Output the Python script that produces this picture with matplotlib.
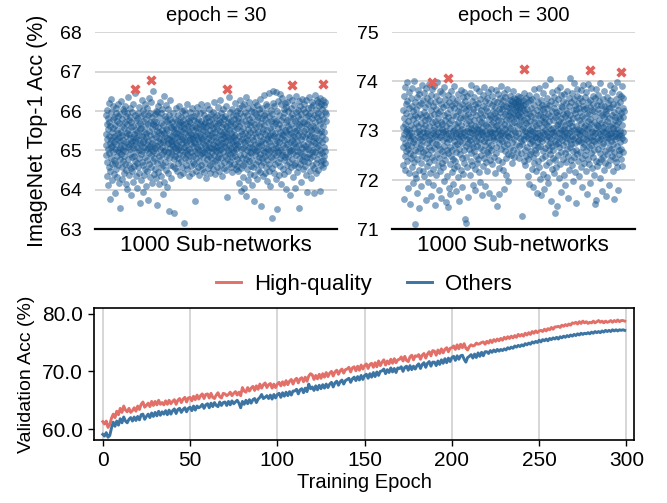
import numpy as np
import matplotlib
matplotlib.use('Agg')
import matplotlib.pyplot as plt

# fonts: Helvetica-like look
plt.rcParams['font.family'] = ['Liberation Sans', 'DejaVu Sans']

COLORS = {
    'dot': '#15558e',
    'hq': '#e0625c',
    'line_hq': '#e27069',
    'line_other': '#3c74a3',
    'grid': '#cccccc',
}

# ---------------------------------------------------------------------------
# Data
# ---------------------------------------------------------------------------
# top-1 acc of the 1000 sub-networks after 30 epochs (index order)
acc_epoch30 = [
    65.42, 64.88, 65.91, 65.13, 64.36, 65.67, 66.02, 64.71, 65.28, 65.55, 64.12, 65.83, 65.04, 64.59, 66.21, 65.37, 64.93, 65.71, 63.78, 65.19,
    65.61, 64.47, 65.26, 65.98, 64.82, 65.09, 66.31, 64.65, 65.47, 65.12, 64.24, 65.79, 65.33, 64.97, 65.58, 66.12, 64.41, 65.22, 65.86, 64.76,
    65.05, 65.64, 63.92, 65.38, 64.69, 65.95, 65.17, 64.53, 66.08, 65.29, 64.86, 65.51, 65.74, 64.33, 65.01, 65.88, 64.62, 65.44, 66.17, 64.95,
    65.33, 64.18, 65.69, 65.07, 64.79, 65.92, 65.24, 63.55, 65.48, 64.91, 66.26, 65.15, 64.58, 65.62, 65.39, 64.27, 65.81, 65.02, 64.73, 66.04,
    65.27, 64.85, 65.56, 64.44, 65.99, 65.11, 64.67, 65.73, 66.14, 64.99, 65.36, 64.15, 65.87, 65.21, 64.51, 65.66, 65.45, 64.03, 65.94, 65.08,
    64.78, 65.53, 66.36, 65.16, 64.64, 65.41, 65.77, 64.39, 65.03, 65.85, 64.92, 65.31, 66.07, 64.55, 65.59, 65.18, 63.86, 65.72, 65.25, 64.83,
    65.97, 64.49, 65.35, 65.06, 64.21, 65.63, 66.19, 64.87, 65.43, 65.14, 64.61, 65.89, 65.23, 64.74, 65.52, 66.47, 64.96, 65.32, 64.35, 65.78,
    65.10, 64.68, 65.82, 65.46, 64.06, 65.26, 65.96, 64.57, 65.65, 65.00, 64.81, 66.11, 65.40, 64.43, 65.70, 65.19, 63.68, 65.54, 65.87, 64.90,
    65.58, 64.26, 65.13, 66.28, 64.72, 65.37, 64.98, 65.75, 63.95, 65.21, 66.03, 64.63, 65.48, 65.09, 64.37, 65.93, 65.29, 64.84, 65.61, 66.18,
    64.54, 65.44, 65.02, 64.11, 65.80, 65.34, 64.77, 66.09, 65.17, 64.48, 65.68, 65.06, 63.74, 65.90, 65.25, 64.66, 65.50, 66.33, 64.94, 65.12,
    65.71, 64.32, 65.39, 65.96, 64.89, 65.04, 66.24, 64.59, 65.57, 65.20, 64.17, 65.84, 65.30, 64.73, 65.66, 66.50, 64.99, 65.43, 64.40, 65.76,
    65.15, 64.80, 65.92, 65.07, 64.52, 65.62, 66.01, 64.29, 65.35, 64.93, 65.73, 63.62, 65.49, 65.11, 64.69, 65.98, 65.24, 64.45, 65.59, 66.13,
    64.87, 65.32, 65.85, 64.14, 65.46, 65.03, 64.76, 66.22, 65.18, 64.58, 65.70, 65.41, 64.35, 65.94, 65.08, 64.91, 65.53, 66.06, 63.89, 65.27,
    65.64, 64.64, 65.22, 66.38, 64.98, 65.45, 64.20, 65.81, 65.36, 64.71, 65.00, 65.88, 64.50, 65.55, 66.16, 64.86, 65.31, 65.74, 64.08, 65.16,
    65.52, 64.95, 66.04, 65.19, 64.42, 65.67, 65.28, 64.81, 65.91, 63.47, 65.40, 65.06, 64.62, 65.79, 66.27, 64.97, 65.24, 64.30, 65.60, 65.13,
    65.38, 64.92, 65.71, 65.25, 64.61, 65.54, 65.96, 65.12, 64.78, 65.47, 63.42, 65.63, 65.29, 64.85, 65.81, 65.07, 64.55, 65.44, 66.09, 65.20,
    64.98, 65.58, 65.33, 64.47, 65.76, 65.15, 65.89, 64.82, 65.41, 65.03, 64.68, 65.67, 66.14, 65.24, 64.90, 65.52, 65.36, 64.39, 65.73, 65.10,
    65.61, 65.02, 64.73, 65.84, 65.30, 64.57, 65.49, 65.99, 65.18, 64.88, 65.66, 65.35, 64.44, 65.78, 63.16, 65.08, 65.57, 66.03, 64.96, 65.27,
    65.45, 64.80, 65.93, 65.21, 64.63, 65.69, 65.13, 64.91, 65.55, 66.18, 65.01, 64.52, 65.82, 65.39, 64.76, 65.62, 65.26, 64.35, 65.74, 65.48,
    65.05, 65.70, 64.87, 65.32, 65.97, 64.60, 65.43, 65.16, 64.95, 65.85, 65.28, 64.42, 65.60, 66.07, 65.11, 64.71, 65.51, 65.34, 64.86, 65.77,
    65.22, 64.66, 65.88, 65.40, 64.99, 65.63, 63.72, 65.19, 65.94, 64.81, 65.36, 65.58, 64.49, 65.72, 65.09, 64.93, 66.11, 65.30, 64.58, 65.46,
    65.80, 65.04, 64.74, 65.57, 65.25, 64.37, 65.68, 65.95, 65.12, 64.89, 65.42, 66.19, 64.64, 65.35, 65.75, 65.00, 64.54, 65.61, 65.29, 64.94,
    65.53, 66.02, 64.83, 65.18, 65.66, 64.45, 65.90, 65.37, 64.97, 65.71, 65.14, 64.68, 65.49, 65.83, 65.06, 64.30, 65.59, 65.23, 66.15, 64.90,
    65.41, 64.78, 65.64, 65.02, 64.56, 65.86, 65.31, 65.10, 64.85, 65.74, 66.05, 65.20, 64.62, 65.52, 64.43, 65.39, 65.92, 65.07, 64.80, 65.65,
    65.27, 64.95, 65.81, 65.44, 64.69, 65.16, 65.98, 64.52, 65.58, 65.33, 64.88, 65.70, 65.03, 66.22, 64.73, 65.47, 65.12, 64.41, 65.85, 65.24,
    64.99, 65.62, 65.35, 64.76, 65.91, 65.08, 64.59, 65.55, 66.10, 65.21, 64.84, 65.69, 65.40, 64.47, 65.77, 65.01, 64.92, 65.50, 66.28, 65.15,
    65.73, 64.64, 65.29, 65.96, 65.05, 64.81, 65.60, 65.43, 64.36, 65.84, 65.18, 64.97, 65.67, 65.32, 66.04, 64.70, 65.48, 65.11, 64.55, 65.79,
    65.37, 65.88, 64.86, 65.22, 65.63, 64.51, 65.45, 66.13, 65.09, 64.79, 65.56, 65.26, 63.81, 65.72, 65.00, 64.93, 65.82, 65.34, 64.65, 65.53,
    66.35, 65.14, 64.74, 65.68, 65.30, 64.90, 65.97, 65.06, 64.58, 65.44, 65.76, 65.19, 64.83, 66.06, 65.38, 64.45, 65.61, 65.25, 65.02, 65.89,
    64.96, 65.51, 65.80, 64.67, 65.35, 66.21, 65.13, 64.87, 65.66, 65.40, 64.53, 65.91, 65.04, 65.27, 64.78, 65.58, 66.01, 65.16, 64.61, 65.74,
    65.12, 64.47, 65.83, 66.09, 64.71, 65.36, 64.18, 65.62, 65.95, 64.89, 65.24, 66.27, 64.56, 65.49, 65.03, 63.97, 65.71, 65.30, 64.82, 66.14,
    65.41, 64.63, 65.06, 65.88, 64.34, 65.57, 66.18, 64.92, 65.21, 64.05, 65.76, 65.44, 64.68, 65.98, 65.15, 64.79, 66.36, 65.32, 63.84, 65.67,
    65.01, 64.52, 65.90, 65.27, 64.86, 65.54, 66.07, 64.25, 65.39, 65.10, 64.73, 65.81, 66.22, 64.97, 65.48, 64.40, 65.64, 65.18, 64.60, 66.01,
    65.73, 64.94, 65.35, 64.13, 65.86, 65.09, 64.77, 66.11, 65.52, 64.58, 65.26, 65.97, 64.39, 65.68, 65.04, 63.73, 65.45, 66.24, 64.88, 65.17,
    64.65, 65.59, 65.92, 64.99, 65.33, 64.28, 65.78, 66.15, 65.02, 64.74, 65.47, 65.85, 64.51, 65.20, 66.04, 64.83, 65.61, 65.11, 64.46, 65.94,
    65.38, 64.90, 66.30, 65.14, 64.62, 65.70, 65.23, 63.58, 65.83, 65.46, 64.81, 66.08, 65.29, 64.36, 65.55, 65.00, 64.70, 65.91, 66.40, 64.96,
    65.65, 64.44, 65.18, 65.79, 64.87, 65.42, 66.19, 64.59, 65.07, 65.96, 64.23, 65.51, 65.28, 64.75, 66.12, 65.36, 64.91, 65.72, 65.05, 64.49,
    65.87, 65.22, 64.67, 66.45, 65.40, 64.98, 65.58, 64.11, 65.76, 66.03, 64.84, 65.31, 65.13, 64.55, 65.93, 63.29, 65.47, 66.21, 64.78, 65.63,
    65.03, 66.52, 64.93, 65.37, 64.43, 65.81, 66.14, 65.19, 64.66, 65.69, 65.44, 64.27, 66.48, 65.06, 64.88, 65.74, 65.25, 63.52, 65.99, 65.35,
    64.72, 65.56, 66.26, 65.10, 64.95, 65.67, 64.38, 65.89, 65.21, 66.43, 64.80, 65.48, 65.02, 64.60, 66.17, 65.32, 64.15, 65.77, 65.43, 64.89,
    65.60, 66.32, 64.97, 65.14, 65.85, 64.52, 65.39, 66.06, 64.76, 65.27, 65.94, 64.41, 65.53, 66.20, 65.08, 64.84, 65.71, 64.03, 65.46, 66.11,
    64.91, 65.30, 65.78, 64.64, 66.24, 65.17, 64.85, 65.63, 65.99, 64.47, 65.41, 65.05, 66.35, 64.71, 65.54, 63.87, 65.86, 65.22, 64.98, 65.68,
    66.09, 65.01, 64.57, 65.45, 65.92, 64.79, 65.26, 66.28, 65.12, 64.33, 65.82, 65.36, 64.94, 65.58, 66.15, 64.62, 65.19, 65.75, 64.06, 65.50,
    65.33, 64.69, 65.97, 65.09, 64.88, 66.38, 65.52, 64.45, 65.70, 65.24, 64.99, 65.87, 66.02, 64.58, 65.40, 65.13, 63.55, 65.64, 66.25, 64.82,
    65.46, 64.96, 65.80, 66.13, 64.67, 65.29, 65.61, 64.20, 65.93, 65.07, 64.77, 66.31, 65.38, 64.90, 65.72, 65.16, 64.53, 66.04, 65.49, 64.86,
    65.69, 66.19, 64.74, 65.34, 65.98, 64.61, 65.11, 65.84, 64.39, 65.55, 66.27, 65.03, 64.83, 65.66, 63.94, 65.42, 66.08, 65.20, 64.70, 65.89,
    65.04, 65.76, 64.92, 66.35, 65.28, 64.48, 65.60, 65.95, 64.80, 65.37, 66.10, 64.29, 65.51, 65.15, 64.97, 65.83, 66.22, 64.64, 65.45, 65.02,
    64.87, 65.62, 66.16, 65.23, 64.56, 65.90, 65.35, 63.91, 65.73, 66.40, 64.95, 65.18, 65.57, 64.68, 66.02, 65.31, 64.43, 65.86, 65.10, 66.29,
    65.53, 64.79, 65.96, 65.14, 66.24, 64.51, 65.44, 65.78, 64.90, 66.12, 65.26, 63.98, 65.67, 65.00, 66.33, 64.73, 65.49, 65.91, 64.62, 66.18,
    65.38, 64.94, 66.06, 65.21, 64.75, 65.81, 66.27, 64.57, 65.63, 65.09, 66.15, 64.86, 65.47, 65.97, 64.68, 65.29, 66.22, 64.98, 65.74, 65.93,
]

# same 1000 sub-networks after 300 epochs
acc_epoch300 = [
    72.85, 73.42, 72.31, 73.08, 72.67, 73.71, 72.94, 71.62, 73.25, 72.48, 73.89, 72.76, 73.13, 72.20, 73.55, 72.99, 72.58, 73.36, 73.98, 72.71,
    73.04, 72.39, 73.61, 72.87, 71.83, 73.19, 72.63, 73.47, 72.92, 72.15, 73.78, 73.01, 72.54, 73.30, 71.52, 72.81, 73.66, 72.45, 73.12, 72.96,
    72.69, 73.51, 72.27, 73.87, 72.90, 73.23, 72.51, 71.95, 73.40, 72.78, 73.06, 72.36, 74.02, 72.84, 73.33, 72.12, 71.11, 73.58, 72.61, 73.15,
    73.44, 72.73, 72.05, 73.69, 72.97, 73.27, 72.42, 71.73, 73.82, 72.88, 73.10, 72.58, 73.52, 72.21, 72.99, 73.74, 71.44, 72.66, 73.35, 72.83,
    72.93, 73.57, 72.34, 73.16, 72.71, 71.88, 73.93, 72.49, 73.28, 72.80, 73.05, 72.18, 73.63, 72.98, 72.56, 73.39, 72.08, 73.77, 72.87, 73.21,
    72.62, 73.48, 72.90, 73.11, 71.59, 73.86, 72.44, 73.32, 72.75, 73.00, 72.28, 73.67, 72.95, 73.24, 72.52, 71.97, 73.54, 72.82, 73.95, 72.68,
    73.09, 72.37, 73.60, 72.91, 73.29, 72.14, 73.73, 72.60, 71.68, 73.43, 72.86, 73.18, 72.47, 73.84, 72.77, 73.02, 72.23, 73.50, 72.96, 71.91,
    73.34, 72.65, 73.07, 73.91, 72.40, 72.89, 73.58, 71.49, 73.20, 72.74, 73.45, 72.10, 73.70, 72.94, 72.53, 73.14, 72.83, 73.99, 72.30, 73.37,
    72.72, 73.26, 72.98, 71.80, 73.62, 72.45, 73.05, 72.87, 73.81, 72.19, 73.40, 72.64, 73.17, 71.64, 72.92, 73.55, 72.35, 73.03, 73.76, 72.59,
    73.13, 72.81, 73.49, 72.26, 72.97, 73.88, 72.50, 73.31, 71.99, 72.70, 73.64, 73.00, 72.41, 73.22, 72.86, 71.56, 73.53, 72.93, 73.10, 72.62,
    72.78, 73.36, 72.09, 73.72, 72.95, 71.46, 73.27, 72.55, 73.59, 72.83, 71.83, 73.15, 72.67, 73.44, 72.32, 73.06, 71.71, 72.91, 73.80, 72.48,
    73.21, 72.61, 73.52, 72.88, 72.17, 73.67, 72.99, 72.43, 73.33, 71.92, 72.80, 73.47, 72.24, 73.02, 73.90, 72.71, 73.13, 72.38, 73.57, 72.90,
    72.57, 73.29, 72.96, 71.77, 73.63, 72.73, 73.08, 72.29, 73.41, 72.85, 73.74, 72.06, 73.18, 72.64, 73.51, 72.94, 71.58, 73.26, 72.79, 73.00,
    73.38, 72.52, 73.83, 72.90, 72.20, 73.12, 72.76, 73.55, 71.86, 73.04, 72.44, 73.69, 72.87, 73.25, 72.13, 73.46, 72.97, 72.60, 73.79, 72.35,
    72.92, 73.30, 71.21, 73.60, 72.69, 73.16, 72.46, 73.43, 71.12, 72.84, 73.71, 72.99, 72.27, 73.35, 72.75, 73.06, 71.65, 73.53, 72.88, 73.19,
    72.63, 73.49, 72.98, 72.11, 73.76, 72.82, 73.27, 72.54, 73.05, 73.92, 72.39, 73.14, 72.74, 73.61, 72.30, 72.95, 73.39, 71.90, 73.02, 72.68,
    73.45, 72.86, 73.21, 72.58, 73.68, 72.22, 73.09, 72.92, 73.54, 71.79, 72.79, 73.32, 72.49, 73.86, 72.98, 73.03, 72.35, 73.48, 72.70, 73.12,
    72.89, 73.57, 72.42, 73.24, 72.77, 73.80, 72.16, 73.01, 72.65, 73.37, 71.96, 73.64, 72.93, 73.18, 72.51, 73.42, 72.83, 71.69, 73.28, 72.97,
    73.06, 72.62, 73.73, 72.91, 72.28, 73.50, 72.80, 73.15, 72.45, 73.89, 72.72, 73.33, 71.88, 72.99, 73.60, 72.37, 73.11, 72.85, 73.46, 72.56,
    72.94, 73.40, 72.19, 73.67, 72.78, 73.08, 72.53, 73.79, 72.88, 71.74, 73.23, 72.66, 73.56, 73.00, 72.40, 73.31, 72.96, 73.85, 72.60, 73.14,
    73.27, 72.71, 73.53, 72.98, 72.33, 73.70, 72.86, 73.17, 71.63, 73.41, 72.90, 73.04, 72.47, 73.61, 72.81, 73.25, 72.14, 73.48, 72.95, 73.36,
    72.68, 73.83, 73.09, 72.55, 73.30, 71.48, 73.58, 72.87, 73.12, 72.41, 73.74, 72.99, 73.22, 71.71, 73.45, 72.76, 73.01, 72.25, 73.66, 72.92,
    73.38, 72.84, 73.55, 72.63, 73.19, 73.91, 72.96, 72.37, 73.44, 73.07, 72.79, 73.62, 72.20, 73.29, 72.91, 73.50, 71.82, 73.14, 72.70, 73.77,
    73.03, 72.58, 73.35, 72.93, 73.68, 72.45, 73.21, 72.82, 73.51, 72.11, 73.40, 72.97, 73.85, 72.74, 73.10, 72.52, 73.57, 72.89, 71.98, 73.32,
    73.46, 72.88, 73.24, 73.62, 72.66, 73.39, 73.05, 73.71, 72.50, 73.53, 72.94, 73.28, 72.35, 73.60, 73.15, 72.78, 73.48, 73.02, 73.80, 72.61,
    73.37, 73.54, 72.83, 73.18, 73.66, 72.47, 73.43, 73.59, 72.98, 73.30, 72.72, 73.49, 73.64, 72.90, 73.25, 73.52, 72.57, 73.41, 73.09, 73.71,
    73.56, 72.96, 73.33, 73.61, 72.69, 73.45, 73.13, 72.44, 73.50, 73.27, 73.68, 72.85, 73.38, 72.55, 73.58, 73.20, 72.79, 71.27, 73.47, 73.04,
    73.31, 72.74, 73.63, 73.08, 72.91, 73.53, 72.38, 73.42, 73.76, 72.83, 73.22, 72.60, 73.55, 73.00, 72.30, 73.36, 72.89, 73.67, 72.48, 73.15,
    72.97, 73.44, 72.67, 73.26, 72.09, 73.58, 72.86, 73.11, 72.42, 73.73, 72.93, 73.35, 71.92, 73.01, 72.76, 73.62, 72.53, 73.19, 72.84, 73.47,
    72.59, 73.29, 72.99, 72.23, 73.65, 72.80, 73.06, 72.46, 73.39, 72.92, 71.86, 73.52, 72.71, 73.17, 72.34, 73.84, 72.95, 72.62, 73.25, 72.87,
    73.12, 72.54, 73.70, 72.88, 72.18, 73.43, 72.77, 73.05, 71.74, 73.58, 72.95, 72.39, 73.31, 72.68, 73.87, 72.83, 73.16, 72.26, 73.49, 72.91,
    72.70, 73.35, 72.02, 73.63, 72.86, 73.21, 71.69, 72.97, 73.52, 72.44, 73.08, 72.79, 73.76, 72.58, 73.28, 72.12, 73.44, 72.93, 71.81, 73.18,
    73.39, 72.65, 73.01, 73.92, 72.48, 73.26, 72.83, 73.55, 72.31, 73.13, 72.90, 73.67, 72.07, 72.98, 73.47, 72.72, 73.34, 71.95, 73.09, 72.61,
    72.88, 73.53, 72.36, 73.19, 72.75, 74.06, 72.52, 73.30, 72.96, 71.58, 73.61, 72.84, 73.04, 72.22, 73.41, 72.69, 73.78, 72.98, 72.45, 73.22,
    73.06, 72.60, 73.46, 72.91, 72.15, 73.69, 72.80, 73.27, 72.41, 73.57, 71.33, 73.00, 72.73, 73.38, 72.27, 73.82, 72.87, 73.11, 71.47, 73.33,
    72.76, 73.14, 72.50, 73.65, 72.95, 72.04, 73.40, 72.67, 73.20, 73.88, 72.33, 73.06, 72.85, 73.51, 71.76, 73.26, 72.57, 73.72, 72.93, 73.02,
    73.48, 72.82, 73.17, 72.43, 73.60, 72.71, 73.34, 72.10, 73.03, 72.89, 73.75, 72.55, 73.29, 71.90, 73.12, 72.98, 73.56, 72.37, 73.43, 72.78,
    72.92, 73.37, 72.64, 73.81, 72.85, 73.23, 71.64, 73.05, 72.49, 73.66, 72.96, 73.15, 72.21, 73.50, 72.81, 74.08, 72.68, 73.31, 72.99, 72.40,
    73.18, 72.73, 73.59, 72.30, 73.09, 72.90, 73.77, 72.58, 73.42, 71.99, 73.26, 72.84, 73.64, 72.47, 73.01, 73.97, 72.75, 73.36, 72.16, 73.53,
    72.87, 73.44, 72.62, 73.10, 71.53, 73.70, 72.97, 73.28, 72.53, 73.85, 72.79, 73.04, 72.38, 73.57, 72.94, 73.21, 72.09, 73.46, 72.82, 73.67,
    73.02, 72.56, 73.39, 72.91, 73.82, 72.27, 73.15, 72.78, 73.61, 72.44, 73.30, 71.85, 72.99, 73.51, 72.68, 73.93, 72.86, 73.08, 72.35, 73.45,
    72.74, 73.26, 72.96, 73.68, 72.51, 73.11, 72.19, 73.47, 72.83, 73.79, 72.62, 73.03, 71.72, 73.36, 72.92, 73.58, 72.43, 73.20, 72.80, 73.95,
    73.34, 72.67, 73.07, 72.32, 73.63, 72.88, 73.24, 71.94, 73.49, 72.71, 73.14, 72.54, 73.86, 72.97, 73.00, 72.25, 73.42, 72.82, 73.70, 72.47,
    72.90, 73.55, 72.60, 73.18, 72.11, 73.41, 72.79, 71.51, 73.29, 72.95, 73.66, 72.39, 73.05, 72.73, 73.84, 71.60, 73.12, 72.86, 73.52, 72.28,
    73.09, 72.64, 73.44, 72.98, 73.73, 72.36, 73.22, 72.81, 73.60, 72.05, 72.93, 73.37, 72.55, 73.96, 72.84, 73.16, 72.42, 73.53, 71.77, 73.01,
    72.70, 73.31, 72.89, 73.64, 72.46, 73.08, 72.76, 73.50, 72.21, 73.27, 72.97, 73.81, 72.58, 73.13, 72.34, 73.45, 72.87, 71.68, 73.35, 72.99,
    73.40, 72.77, 73.19, 72.52, 73.69, 72.92, 73.03, 72.30, 73.57, 72.85, 73.25, 71.89, 73.46, 72.66, 73.92, 72.94, 73.10, 72.41, 73.63, 72.80,
    72.96, 73.48, 72.63, 73.14, 72.87, 73.78, 72.49, 73.32, 72.18, 73.06, 72.74, 73.55, 71.62, 72.99, 73.38, 72.57, 73.87, 72.90, 73.21, 72.45,
    73.27, 72.83, 73.65, 72.37, 73.11, 72.95, 73.52, 72.70, 73.98, 72.26, 73.04, 72.88, 73.43, 71.80, 73.17, 72.61, 73.74, 72.92, 73.30, 72.53,
    73.00, 73.59, 72.78, 73.23, 72.43, 73.71, 72.91, 73.36, 72.64, 73.90, 72.85, 73.12, 72.29, 73.47, 72.97, 73.66, 72.56, 73.28, 72.82, 73.41,
]

# the five high-quality sub-networks (red crosses)
hq_index = [132, 205, 550, 846, 988]
hq_acc_epoch30 = [66.55, 66.79, 66.55, 66.65, 66.69]
hq_acc_epoch300 = [73.99, 74.07, 74.25, 74.23, 74.20]

# validation accuracy curves, epochs 0..299
val_high_quality = [
    61.3, 60.9, 61.4, 60.3, 60.8, 61.9, 62.6, 62.0, 63.1, 62.5,
    63.6, 62.9, 64.0, 63.3, 63.0, 63.6, 62.9, 63.2, 63.7, 63.1,
    64.0, 63.4, 64.3, 64.7, 63.8, 64.1, 64.5, 63.9, 64.8, 64.1,
    64.8, 64.2, 65.0, 64.3, 64.6, 64.2, 64.9, 64.3, 65.0, 64.4,
    64.8, 65.1, 64.3, 65.0, 65.3, 64.6, 65.2, 65.5, 64.7, 65.4,
    65.5, 64.9, 65.7, 65.1, 65.9, 65.2, 65.8, 66.1, 65.3, 66.0,
    66.1, 65.4, 66.2, 65.5, 65.3, 65.9, 66.3, 65.6, 65.4, 66.2,
    66.1, 65.8, 66.0, 66.4, 65.8, 66.2, 66.5, 65.9, 66.4, 65.8,
    67.2, 66.6, 66.4, 67.2, 66.6, 67.1, 67.4, 66.7, 67.5, 66.9,
    67.8, 67.1, 67.7, 68.0, 67.2, 67.7, 67.9, 67.1, 67.8, 67.2,
    67.8, 68.1, 67.5, 68.2, 67.6, 68.4, 67.7, 68.3, 68.6, 67.8,
    68.5, 68.8, 68.0, 68.7, 68.9, 68.2, 69.0, 68.3, 69.2, 69.6,
    69.4, 68.6, 69.3, 68.7, 69.5, 68.8, 69.6, 69.0, 69.8, 69.1,
    69.7, 70.0, 69.2, 69.9, 70.2, 69.5, 70.1, 70.4, 69.7, 70.3,
    70.4, 70.7, 69.9, 70.6, 70.8, 70.1, 70.9, 70.2, 71.1, 70.4,
    71.0, 71.3, 70.5, 71.2, 71.4, 70.7, 71.5, 70.8, 71.8, 71.0,
    71.6, 72.0, 71.1, 71.8, 71.3, 72.1, 71.4, 72.2, 71.5, 72.0,
    72.1, 72.5, 71.8, 72.6, 71.9, 71.7, 72.5, 72.8, 72.0, 72.7,
    72.6, 72.9, 72.1, 72.8, 73.1, 72.3, 73.0, 73.4, 72.7, 73.6,
    73.5, 72.8, 73.7, 73.1, 73.9, 73.2, 73.8, 74.1, 73.4, 74.0,
    74.1, 74.4, 73.8, 74.6, 73.9, 74.7, 74.1, 74.8, 74.0, 73.7,
    74.3, 74.6, 74.4, 74.5, 74.9, 74.7, 74.8, 75.0, 75.1, 74.7,
    75.2, 74.9, 75.4, 75.0, 75.5, 75.2, 75.6, 75.3, 75.7, 75.4,
    75.9, 75.6, 76.0, 75.7, 76.1, 75.8, 76.2, 75.9, 76.4, 76.1,
    76.4, 76.1, 76.6, 76.3, 76.7, 76.4, 76.9, 76.6, 77.0, 76.7,
    77.0, 77.1, 76.9, 77.3, 77.0, 77.4, 77.2, 77.6, 77.3, 77.7,
    77.7, 77.8, 77.6, 78.0, 77.8, 78.1, 77.9, 78.2, 78.0, 78.4,
    78.3, 78.5, 78.2, 78.6, 78.3, 78.7, 78.4, 78.6, 78.3, 78.5,
    78.4, 78.7, 78.4, 78.6, 78.8, 78.5, 78.7, 78.4, 78.7, 78.5,
    78.6, 78.8, 78.5, 78.8, 78.6, 78.9, 78.6, 78.8, 78.8, 78.7,
]
val_others = [
    59.1, 58.8, 59.4, 58.6, 58.9, 60.2, 61.2, 60.5, 61.4, 60.7,
    61.8, 61.1, 62.1, 61.4, 61.1, 61.7, 62.0, 61.4, 62.1, 61.5,
    62.2, 61.6, 62.5, 62.6, 61.7, 62.2, 62.6, 62.0, 62.8, 62.2,
    62.9, 62.3, 63.1, 62.4, 63.0, 62.6, 63.2, 62.5, 63.3, 62.6,
    63.2, 63.5, 62.7, 63.4, 63.6, 62.9, 63.4, 63.7, 63.0, 63.6,
    63.8, 63.2, 64.0, 63.3, 64.0, 63.7, 63.9, 64.3, 63.6, 64.2,
    64.4, 63.7, 64.5, 63.9, 64.6, 64.1, 63.9, 64.7, 64.1, 64.6,
    64.7, 64.1, 64.8, 64.2, 64.9, 64.4, 64.7, 65.0, 64.5, 63.7,
    64.8, 64.3, 65.0, 64.4, 65.1, 64.5, 65.1, 65.3, 64.6, 65.2,
    65.5, 66.0, 65.3, 65.5, 65.8, 65.3, 65.9, 65.2, 66.0, 65.4,
    66.0, 66.2, 65.5, 66.3, 65.7, 66.4, 65.8, 66.5, 65.9, 66.6,
    66.6, 66.9, 66.1, 66.8, 67.0, 66.3, 67.1, 66.5, 67.8, 67.0,
    67.3, 66.7, 67.5, 66.8, 67.6, 67.0, 67.7, 67.1, 67.8, 67.2,
    67.8, 68.1, 67.3, 68.0, 68.3, 67.6, 68.2, 68.5, 67.8, 68.4,
    68.6, 68.8, 68.1, 68.7, 69.0, 68.4, 69.1, 68.5, 69.3, 68.6,
    69.3, 69.5, 68.8, 69.6, 69.0, 69.8, 69.1, 69.9, 69.3, 70.0,
    70.1, 70.4, 69.6, 70.3, 69.8, 70.6, 69.9, 70.5, 69.8, 70.6,
    70.5, 70.8, 70.0, 70.7, 70.9, 70.2, 71.0, 70.3, 70.9, 70.4,
    71.0, 71.3, 70.5, 71.2, 71.5, 70.7, 71.4, 71.7, 70.9, 71.6,
    71.6, 71.0, 71.8, 71.2, 72.0, 71.4, 72.2, 71.5, 72.3, 71.7,
    72.4, 72.6, 71.9, 72.7, 72.1, 72.7, 72.8, 72.1, 71.6, 72.4,
    72.6, 72.9, 72.3, 73.0, 72.4, 73.2, 72.6, 73.3, 72.7, 73.4,
    73.4, 73.1, 73.6, 73.3, 73.7, 73.4, 73.8, 73.5, 73.8, 73.6,
    73.9, 73.7, 74.1, 73.9, 74.2, 74.0, 74.4, 74.2, 74.5, 74.3,
    74.6, 74.4, 74.8, 74.6, 74.9, 74.7, 75.1, 74.9, 75.2, 75.0,
    75.4, 75.1, 75.5, 75.3, 75.6, 75.3, 75.7, 75.5, 75.8, 75.6,
    75.9, 75.6, 76.0, 75.8, 76.1, 75.9, 76.2, 76.0, 76.3, 76.1,
    76.4, 76.2, 76.5, 76.3, 76.6, 76.4, 76.6, 76.5, 76.7, 76.5,
    76.8, 76.6, 76.9, 76.7, 76.9, 76.7, 77.0, 76.8, 77.1, 76.9,
    77.1, 76.9, 77.2, 77.0, 77.2, 77.0, 77.2, 77.1, 77.2, 77.1,
]

top_panels = [
    ('epoch = 30', acc_epoch30, hq_acc_epoch30, (63, 68), [63, 64, 65, 66, 67, 68]),
    ('epoch = 300', acc_epoch300, hq_acc_epoch300, (71, 75), [71, 72, 73, 74, 75]),
]


def style_scatter_panel(ax, title, ylim, yticks):
    ax.set_ylim(*ylim)
    ax.set_yticks(yticks)
    ax.set_xticks([])
    ax.set_title(title, fontsize=14.5, pad=8)
    ax.set_xlabel('1000 Sub-networks', fontsize=16, labelpad=4)
    ax.yaxis.grid(True, color=COLORS['grid'], linewidth=1.1)
    ax.set_axisbelow(True)
    for side in ['top', 'right', 'left']:
        ax.spines[side].set_visible(False)
    ax.spines['bottom'].set_color('black')
    ax.spines['bottom'].set_linewidth(1.6)
    ax.tick_params(axis='y', length=0, pad=9.5, labelsize=14)


def main():
    fig = plt.figure(figsize=(6.67, 5.03), dpi=100)
    top_axes = [fig.add_axes([0.142, 0.544, 0.363, 0.392]),
                fig.add_axes([0.587, 0.544, 0.365, 0.392])]

    for ax, (title, acc, hq_acc, ylim, yticks) in zip(top_axes, top_panels):
        ax.scatter(np.arange(len(acc)), acc, s=24, color=COLORS['dot'],
                   alpha=0.52, linewidths=0, zorder=2)
        ax.scatter(hq_index, hq_acc, s=55, marker='X', color=COLORS['hq'],
                   linewidths=0, zorder=3)
        style_scatter_panel(ax, title, ylim, yticks)

    top_axes[0].set_ylabel('ImageNet Top-1 Acc (%)', fontsize=15.5)
    top_axes[0].yaxis.set_label_coords(-0.195, 0.5)

    # bottom: validation curves
    ax = fig.add_axes([0.141, 0.125, 0.810, 0.263])
    epochs = np.arange(len(val_high_quality))
    ax.plot(epochs, val_high_quality, color=COLORS['line_hq'], lw=2.1, label='High-quality')
    ax.plot(epochs, val_others, color=COLORS['line_other'], lw=2.1, label='Others')

    ax.set_xlim(-5, 304.5)
    ax.set_ylim(58.1, 81.0)
    ax.set_xticks([0, 50, 100, 150, 200, 250, 300])
    ax.set_yticks([60, 70, 80])
    ax.set_yticklabels(['60.0', '70.0', '80.0'])
    ax.xaxis.grid(True, color=COLORS['grid'], linewidth=1.1)
    ax.set_axisbelow(True)
    for side in ax.spines.values():
        side.set_color('black')
        side.set_linewidth(1.2)
    ax.tick_params(length=4, width=1, pad=4, labelsize=15)
    ax.set_xlabel('Training Epoch', fontsize=14.5, labelpad=2)
    ax.set_ylabel('Validation Acc (%)', fontsize=14)
    ax.yaxis.set_label_coords(-0.11, 0.5)
    ax.legend(loc='lower center', bbox_to_anchor=(0.5, 1.0), ncol=2, frameon=False,
              fontsize=16, handlelength=1.1, columnspacing=1.6, handletextpad=0.6,
              borderaxespad=0.2)

    fig.savefig('out.png', dpi=100, facecolor='white')
    plt.close(fig)


if __name__ == '__main__':
    main()
